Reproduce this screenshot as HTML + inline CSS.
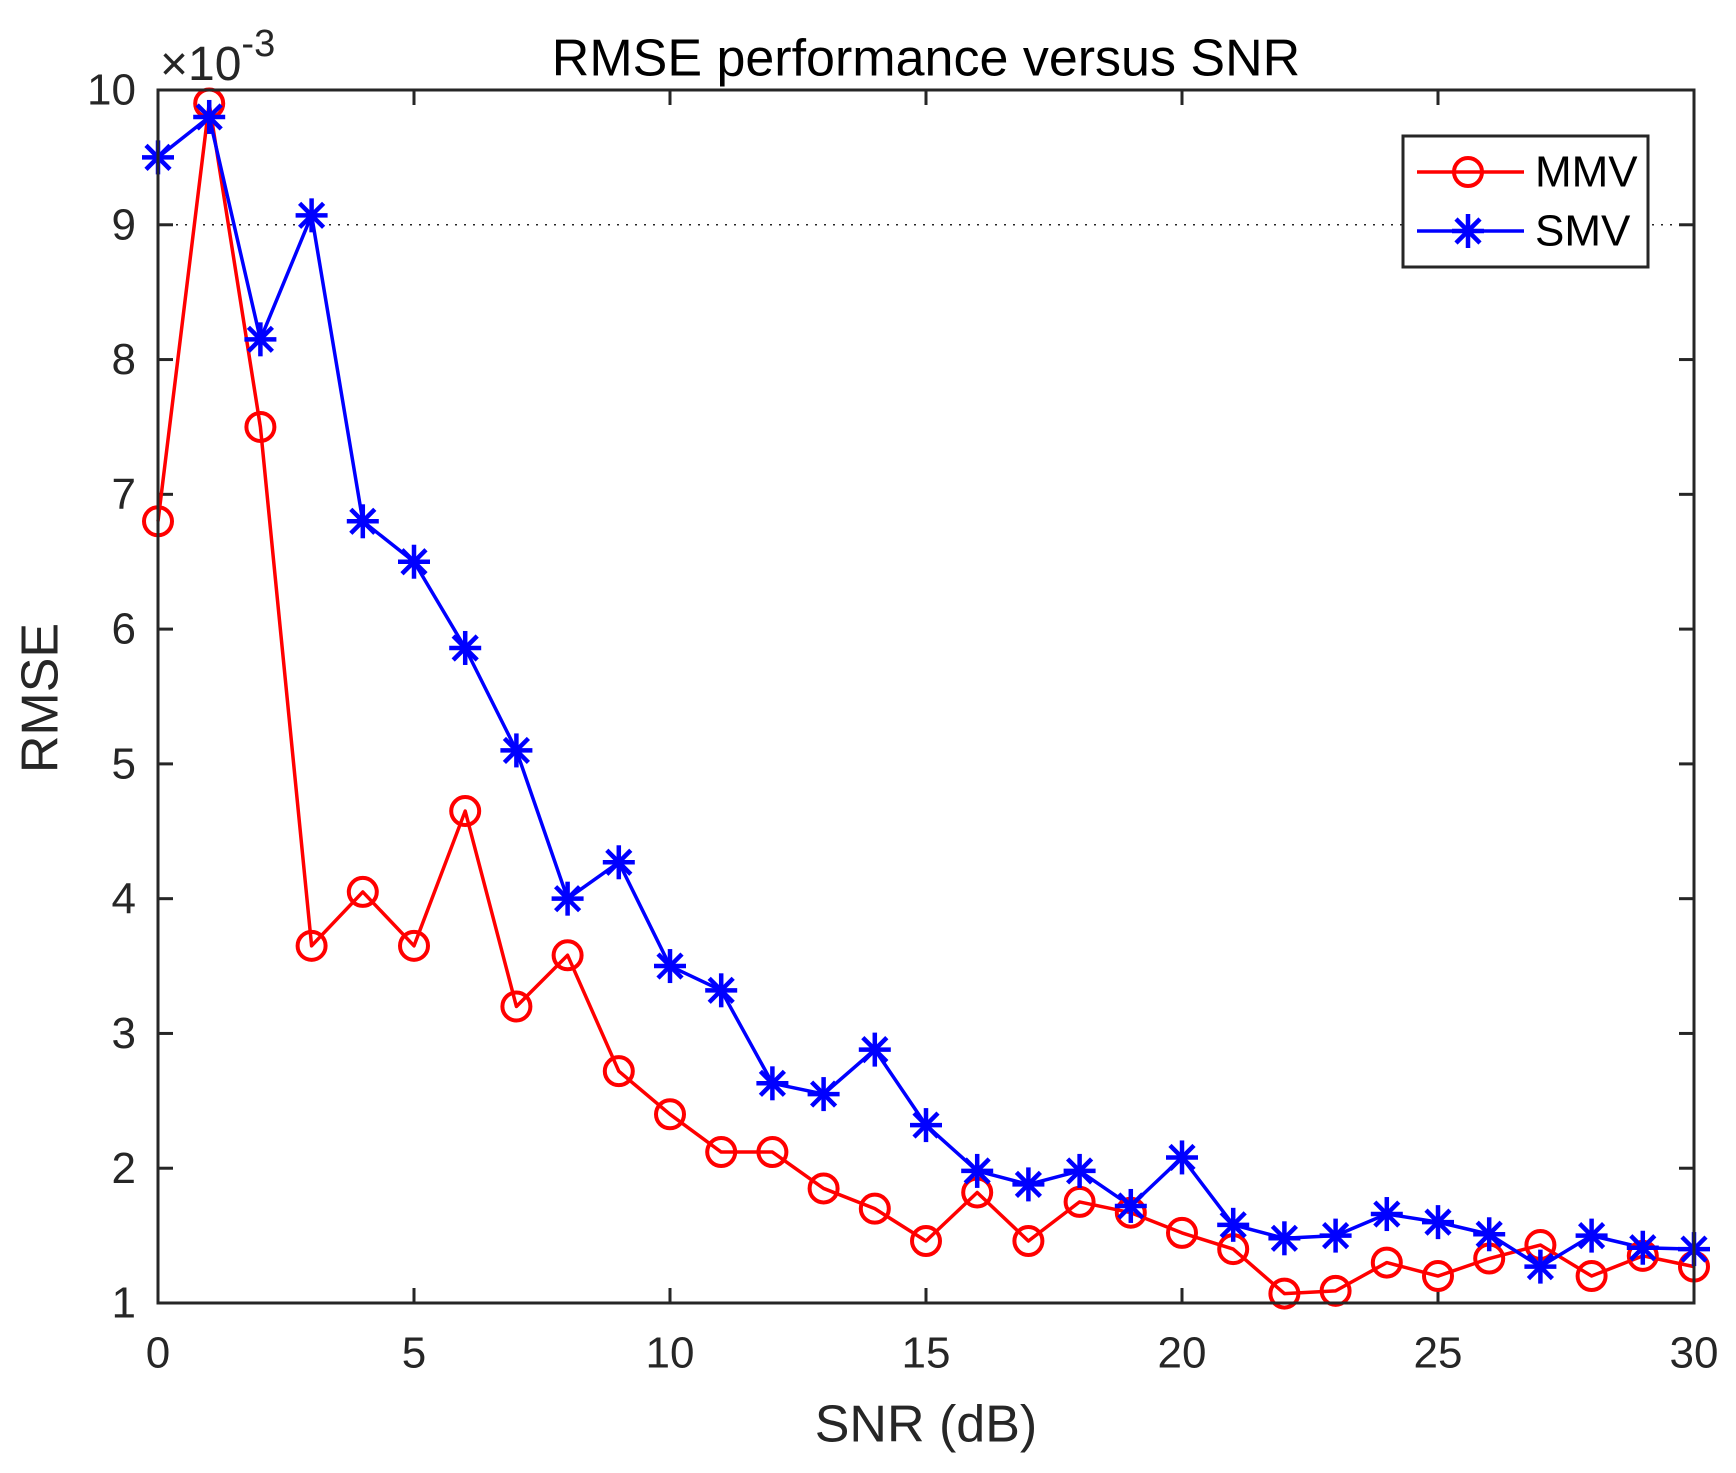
<!DOCTYPE html>
<html><head><meta charset="utf-8"><style>
html,body{margin:0;padding:0;background:#fff;}
svg{display:block;font-family:"Liberation Sans",sans-serif;}
</style></head><body>
<svg id="chart" width="1736" height="1473" viewBox="0 0 1736 1473">
<rect width="1736" height="1473" fill="#fff"/>
<text x="926" y="62" font-size="52" text-anchor="middle" dominant-baseline="middle" fill="#000">RMSE performance versus SNR</text>
<text x="160" y="80" font-size="48" fill="#262626">×10<tspan dy="-24" font-size="38">-3</tspan></text>
<text x="926" y="1428" font-size="52" text-anchor="middle" dominant-baseline="middle" fill="#262626">SNR (dB)</text>
<text x="0" y="0" font-size="52" text-anchor="middle" dominant-baseline="middle" fill="#262626" transform="translate(44,698) rotate(-90)">RMSE</text>
<g id="ticks"></g>
<g id="series"></g>
<rect x="158" y="90" width="1536" height="1213" fill="none" stroke="#262626" stroke-width="3"/>
<g>
<rect x="1403" y="136" width="245" height="131" fill="#fff" stroke="#262626" stroke-width="3"/>
<line x1="1417" y1="172" x2="1524" y2="172" stroke="#f00" stroke-width="3.5"/>
<circle cx="1468" cy="172" r="14" fill="none" stroke="#f00" stroke-width="4"/>
<text x="1535" y="175" font-size="44" dominant-baseline="middle" fill="#000">MMV</text>
<line x1="1417" y1="231" x2="1524" y2="231" stroke="#00f" stroke-width="3.5"/>
<g stroke="#00f" stroke-width="4.5"><line x1="1452" y1="231" x2="1484" y2="231"/><line x1="1468" y1="214" x2="1468" y2="248"/><line x1="1456" y1="219" x2="1480" y2="243"/><line x1="1456" y1="243" x2="1480" y2="219"/></g>
<text x="1535" y="234" font-size="44" dominant-baseline="middle" fill="#000">SMV</text>
</g>
</svg>
<script>
const snr = [0,1,2,3,4,5,6,7,8,9,10,11,12,13,14,15,16,17,18,19,20,21,22,23,24,25,26,27,28,29,30];
const mmv = [6.8,9.9,7.5,3.65,4.05,3.65,4.65,3.2,3.58,2.72,2.4,2.12,2.12,1.85,1.7,1.46,1.82,1.46,1.75,1.67,1.52,1.4,1.07,1.09,1.3,1.2,1.33,1.43,1.2,1.35,1.27];
const smv = [9.5,9.8,8.15,9.07,6.8,6.5,5.86,5.1,4.0,4.27,3.5,3.32,2.63,2.55,2.88,2.32,1.98,1.88,1.98,1.72,2.08,1.58,1.48,1.5,1.66,1.6,1.51,1.27,1.5,1.41,1.4];
const xTicks = [0,5,10,15,20,25,30];
const yTicks = [1,2,3,4,5,6,7,8,9,10];
const NS='http://www.w3.org/2000/svg';
const X0=158,X1=1694,Y0=1303,Y1=90;
function xs(v){return X0+(v-0)/(30-0)*(X1-X0);}
function ys(v){return Y0-(v-1)/(10-1)*(Y0-Y1);}
function mk(tag,attrs,parent){const e=document.createElementNS(NS,tag);for(const k in attrs)e.setAttribute(k,attrs[k]);parent.appendChild(e);return e;}
const tg=document.getElementById('ticks');
const gl=mk('line',{x1:X0,x2:X1,y1:ys(9),y2:ys(9),stroke:'#262626','stroke-width':1.5,'stroke-dasharray':'2 7'},tg);


xTicks.forEach(t=>{
  const x=xs(t);
  mk('line',{x1:x,x2:x,y1:Y0,y2:Y0-15,stroke:'#262626','stroke-width':3},tg);
  mk('line',{x1:x,x2:x,y1:Y1,y2:Y1+15,stroke:'#262626','stroke-width':3},tg);
  const tx=mk('text',{x:x,y:1356,'font-size':44,'text-anchor':'middle','dominant-baseline':'middle',fill:'#262626'},tg);
  tx.textContent=t;
  
  
});
yTicks.forEach(t=>{
  const y=ys(t);
  mk('line',{x1:X0,x2:X0+15,y1:y,y2:y,stroke:'#262626','stroke-width':3},tg);
  mk('line',{x1:X1,x2:X1-15,y1:y,y2:y,stroke:'#262626','stroke-width':3},tg);
  const tx=mk('text',{x:136,y:y+3,'font-size':44,'text-anchor':'end','dominant-baseline':'middle',fill:'#262626'},tg);
  tx.textContent=t;
  
  
});
const sg=document.getElementById('series');
function line(vals,color,name){
  const pts=vals.map((v,i)=>xs(snr[i])+','+ys(v)).join(' ');
  const p=mk('polyline',{points:pts,fill:'none',stroke:color,'stroke-width':3.5,'stroke-linejoin':'round'},sg);
  
  
}
line(mmv,'#f00','mmv-line');
line(smv,'#00f','smv-line');
mmv.forEach((v,i)=>{
  const c=mk('circle',{cx:xs(snr[i]),cy:ys(v),r:14,fill:'none',stroke:'#f00','stroke-width':4},sg);
  
  
});
smv.forEach((v,i)=>{
  const x=xs(snr[i]),y=ys(v);
  const g=mk('g',{stroke:'#00f','stroke-width':4.5},sg);
  
  
  mk('line',{x1:x-16,y1:y,x2:x+16,y2:y},g);
  mk('line',{x1:x,y1:y-17,x2:x,y2:y+17},g);
  mk('line',{x1:x-12,y1:y-12,x2:x+12,y2:y+12},g);
  mk('line',{x1:x-12,y1:y+12,x2:x+12,y2:y-12},g);
});
</script>
</body></html>
